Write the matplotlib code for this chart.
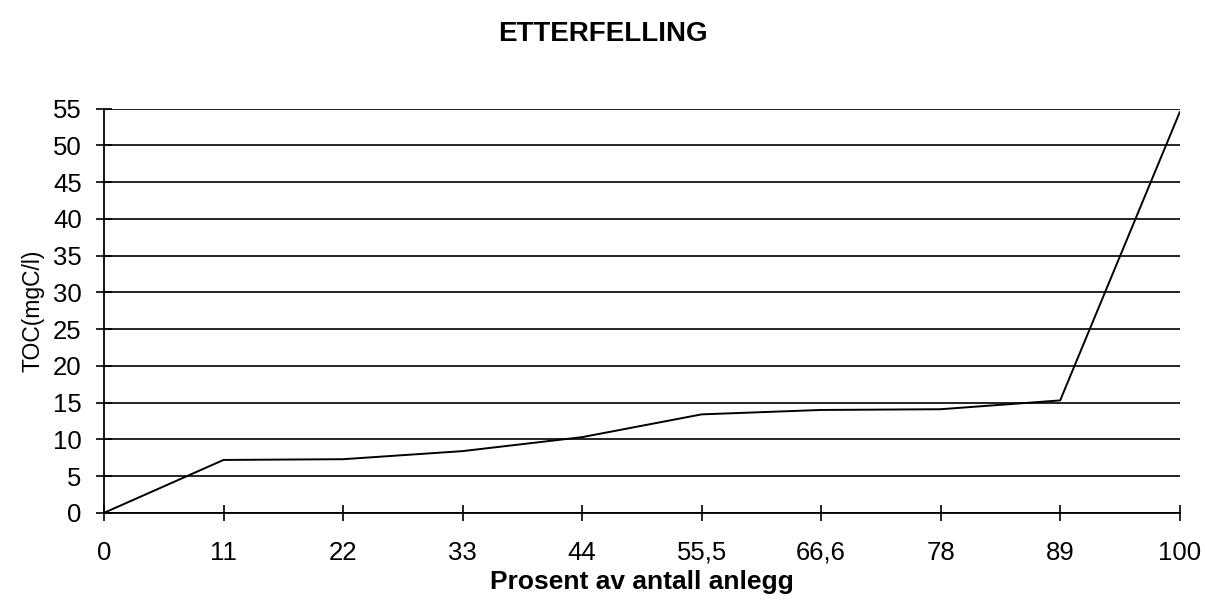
import numpy as np
import matplotlib
matplotlib.use('Agg')
import matplotlib.pyplot as plt

plt.rcParams['font.family'] = ['Liberation Sans', 'DejaVu Sans']

# andel av anlegg (kategorier) og TOC-verdier
categories = ['0', '11', '22', '33', '44', '55,5', '66,6', '78', '89', '100']
toc_values = [0, 7.2, 7.3, 8.4, 10.3, 13.4, 14.0, 14.1, 15.3, 54.5]
y_ticks = list(range(0, 60, 5))

fig = plt.figure(figsize=(12.05, 6.12), dpi=100)
ax = fig.add_axes([0.0863, 0.162, 0.8927, 0.6605])

x = np.arange(len(categories))
ax.plot(x, toc_values, color='black', linewidth=1.4, zorder=3)

ax.set_xlim(0, len(categories) - 1)
ax.set_ylim(0, 55)
ax.set_xticks(x)
ax.set_xticklabels(categories, fontsize=18.5)
ax.set_yticks(y_ticks)
ax.set_yticklabels([str(v) for v in y_ticks], fontsize=18.5)

ax.yaxis.grid(True, color='black', linewidth=1.2)
ax.set_axisbelow(True)
for side in ['top', 'right']:
    ax.spines[side].set_visible(False)
for side in ['left', 'bottom']:
    ax.spines[side].set_linewidth(1.3)
    ax.spines[side].set_color('black')
ax.tick_params(axis='both', direction='inout', length=12, width=1.2, colors='black')
ax.tick_params(axis='x', pad=14)
ax.tick_params(axis='y', pad=10)
ax.spines['left'].set_zorder(4)

ax.set_xlabel('Prosent av antall anlegg', fontsize=19, fontweight='bold', labelpad=4)
ax.set_ylabel('TOC(mgC/l)', fontsize=16.5, labelpad=6)
fig.text(0.5, 0.945, 'ETTERFELLING', ha='center', va='center', fontsize=20, fontweight='bold')

fig.savefig('out.png', dpi=100)
